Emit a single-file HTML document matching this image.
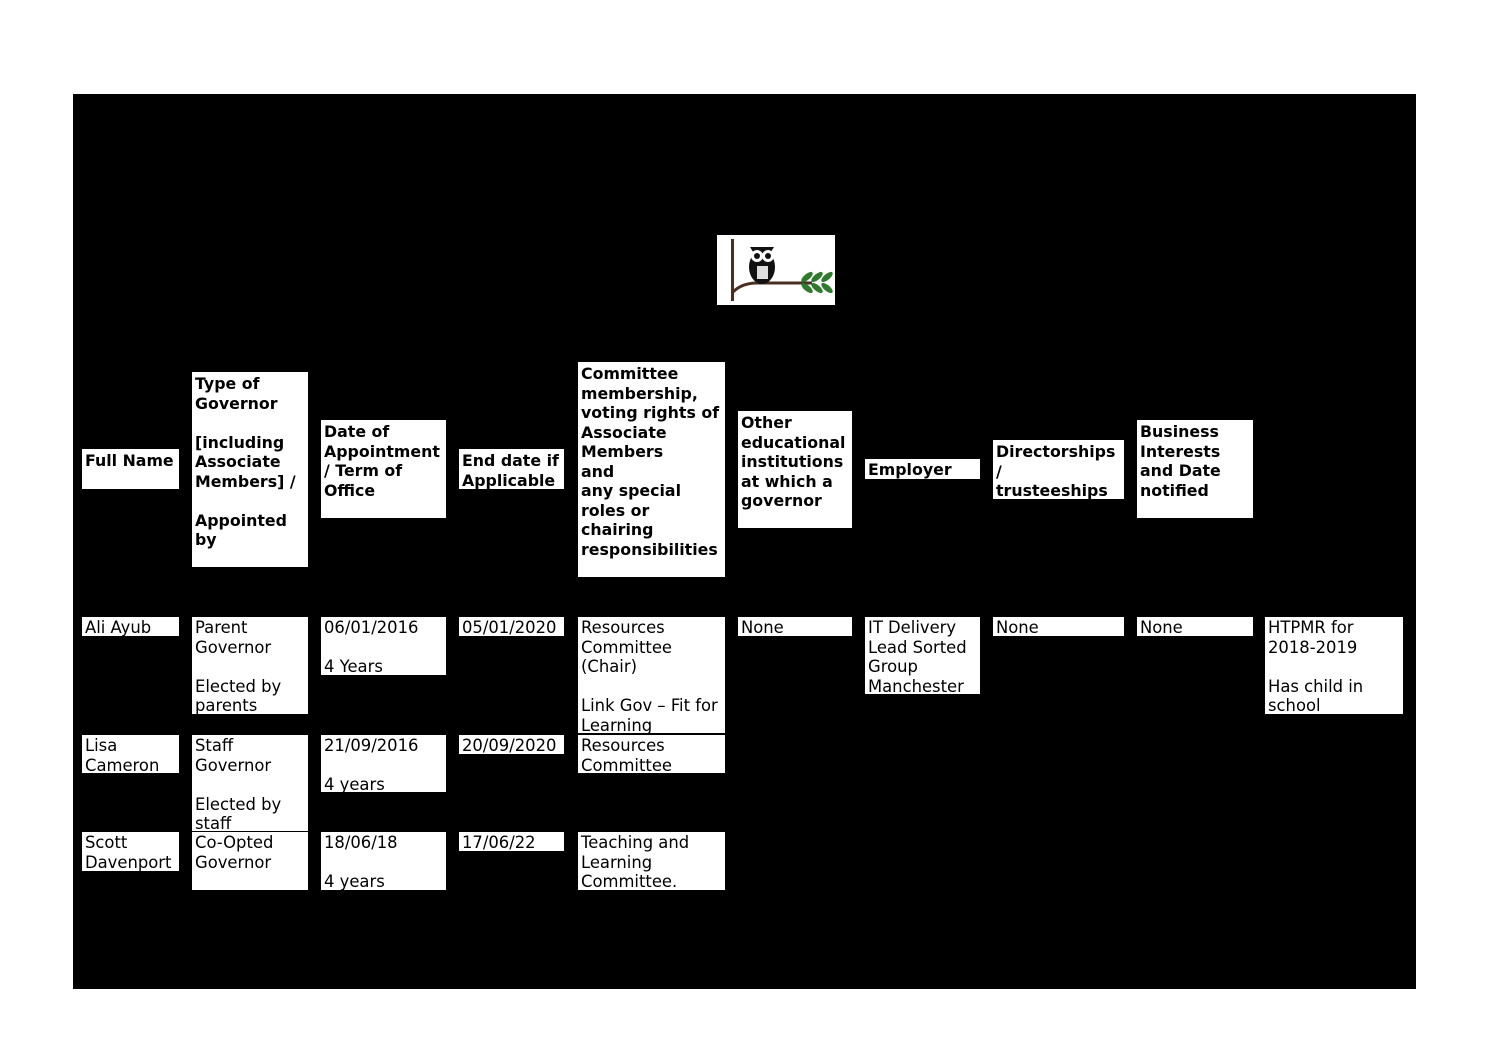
<!DOCTYPE html>
<html><head><meta charset="utf-8"><style>
body{margin:0;width:1497px;height:1058px;background:#fff;position:relative;overflow:hidden;font-family:"DejaVu Sans","Liberation Sans",sans-serif;}
#bg{position:absolute;left:73px;top:94px;width:1343px;height:895px;background:#000;}
.b{position:absolute;background:#fff;color:#000;font-size:16.4px;line-height:19.5px;padding:1px 0 0 3px;box-sizing:border-box;white-space:nowrap;overflow:hidden;}
.h{font-weight:bold;font-size:15.8px;padding-top:2px;}
</style></head><body>
<div id="bg"></div>
<div class="b" style="left:717px;top:235px;width:118px;height:70px;padding:0">
<svg width="118" height="70" viewBox="0 0 118 70">
<rect x="14" y="4" width="3" height="62" fill="#4a2e20"/>
<path d="M16 57 Q25 48 40 48 L95 48" stroke="#4a2e20" stroke-width="3" fill="none"/>
<ellipse cx="45" cy="32" rx="13" ry="17" fill="#111"/>
<path d="M33 12 L38 20 L52 20 L57 12 Z" fill="#111"/>
<circle cx="40" cy="21" r="6" fill="#fff"/><circle cx="51" cy="21" r="6" fill="#fff"/>
<circle cx="40" cy="21" r="3" fill="#111"/><circle cx="51" cy="21" r="3" fill="#111"/>
<rect x="40" y="31" width="11" height="13" fill="#ddd"/>
<g fill="#2f7a2f"><ellipse cx="90" cy="42" rx="7" ry="3" transform="rotate(-40 90 42)"/><ellipse cx="100" cy="42" rx="7" ry="3" transform="rotate(-40 100 42)"/><ellipse cx="110" cy="42" rx="7" ry="3" transform="rotate(-40 110 42)"/><ellipse cx="90" cy="53" rx="7" ry="3" transform="rotate(40 90 53)"/><ellipse cx="100" cy="53" rx="7" ry="3" transform="rotate(40 100 53)"/><ellipse cx="110" cy="53" rx="7" ry="3" transform="rotate(40 110 53)"/></g>
</svg></div>

<div class="b h" style="left:82px;top:449px;width:97px;height:40px;padding-top:2px">Full Name</div>
<div class="b h" style="left:192px;top:372px;width:116px;height:195px">Type of<br>Governor<br><br>[including<br>Associate<br>Members] /<br><br>Appointed<br>by</div>
<div class="b h" style="left:321px;top:420px;width:125px;height:98px">Date of<br>Appointment<br>/ Term of<br>Office</div>
<div class="b h" style="left:459px;top:449px;width:105px;height:40px">End date if<br>Applicable</div>
<div class="b h" style="left:578px;top:362px;width:147px;height:215px">Committee<br>membership,<br>voting rights of<br>Associate<br>Members<br>and<br>any special<br>roles or<br>chairing<br>responsibilities</div>
<div class="b h" style="left:738px;top:411px;width:114px;height:117px">Other<br>educational<br>institutions<br>at which a<br>governor</div>
<div class="b h" style="left:865px;top:459px;width:115px;height:20px;padding-top:1px">Employer</div>
<div class="b h" style="left:993px;top:440px;width:131px;height:59px">Directorships<br>/<br>trusteeships</div>
<div class="b h" style="left:1137px;top:420px;width:116px;height:98px">Business<br>Interests<br>and Date<br>notified</div>

<div class="b" style="left:82px;top:617px;width:97px;height:19px">Ali Ayub</div>
<div class="b" style="left:192px;top:617px;width:116px;height:97px">Parent<br>Governor<br><br>Elected by<br>parents</div>
<div class="b" style="left:321px;top:617px;width:125px;height:58px">06/01/2016<br><br>4 Years</div>
<div class="b" style="left:459px;top:617px;width:105px;height:19px">05/01/2020</div>
<div class="b" style="left:578px;top:617px;width:147px;height:116px">Resources<br>Committee<br>(Chair)<br><br>Link Gov – Fit for<br>Learning</div>
<div class="b" style="left:738px;top:617px;width:114px;height:19px">None</div>
<div class="b" style="left:865px;top:617px;width:115px;height:77px">IT Delivery<br>Lead Sorted<br>Group<br>Manchester</div>
<div class="b" style="left:993px;top:617px;width:131px;height:19px">None</div>
<div class="b" style="left:1137px;top:617px;width:116px;height:19px">None</div>
<div class="b" style="left:1265px;top:617px;width:138px;height:97px">HTPMR for<br>2018-2019<br><br>Has child in<br>school</div>

<div class="b" style="left:82px;top:735px;width:97px;height:38px">Lisa<br>Cameron</div>
<div class="b" style="left:192px;top:735px;width:116px;height:96px">Staff<br>Governor<br><br>Elected by<br>staff</div>
<div class="b" style="left:321px;top:735px;width:125px;height:57px">21/09/2016<br><br>4 years</div>
<div class="b" style="left:459px;top:735px;width:105px;height:19px">20/09/2020</div>
<div class="b" style="left:578px;top:735px;width:147px;height:38px">Resources<br>Committee</div>

<div class="b" style="left:82px;top:832px;width:97px;height:39px">Scott<br>Davenport</div>
<div class="b" style="left:192px;top:832px;width:116px;height:58px">Co-Opted<br>Governor</div>
<div class="b" style="left:321px;top:832px;width:125px;height:58px">18/06/18<br><br>4 years</div>
<div class="b" style="left:459px;top:832px;width:105px;height:19px">17/06/22</div>
<div class="b" style="left:578px;top:832px;width:147px;height:58px">Teaching and<br>Learning<br>Committee.</div>
</body></html>
